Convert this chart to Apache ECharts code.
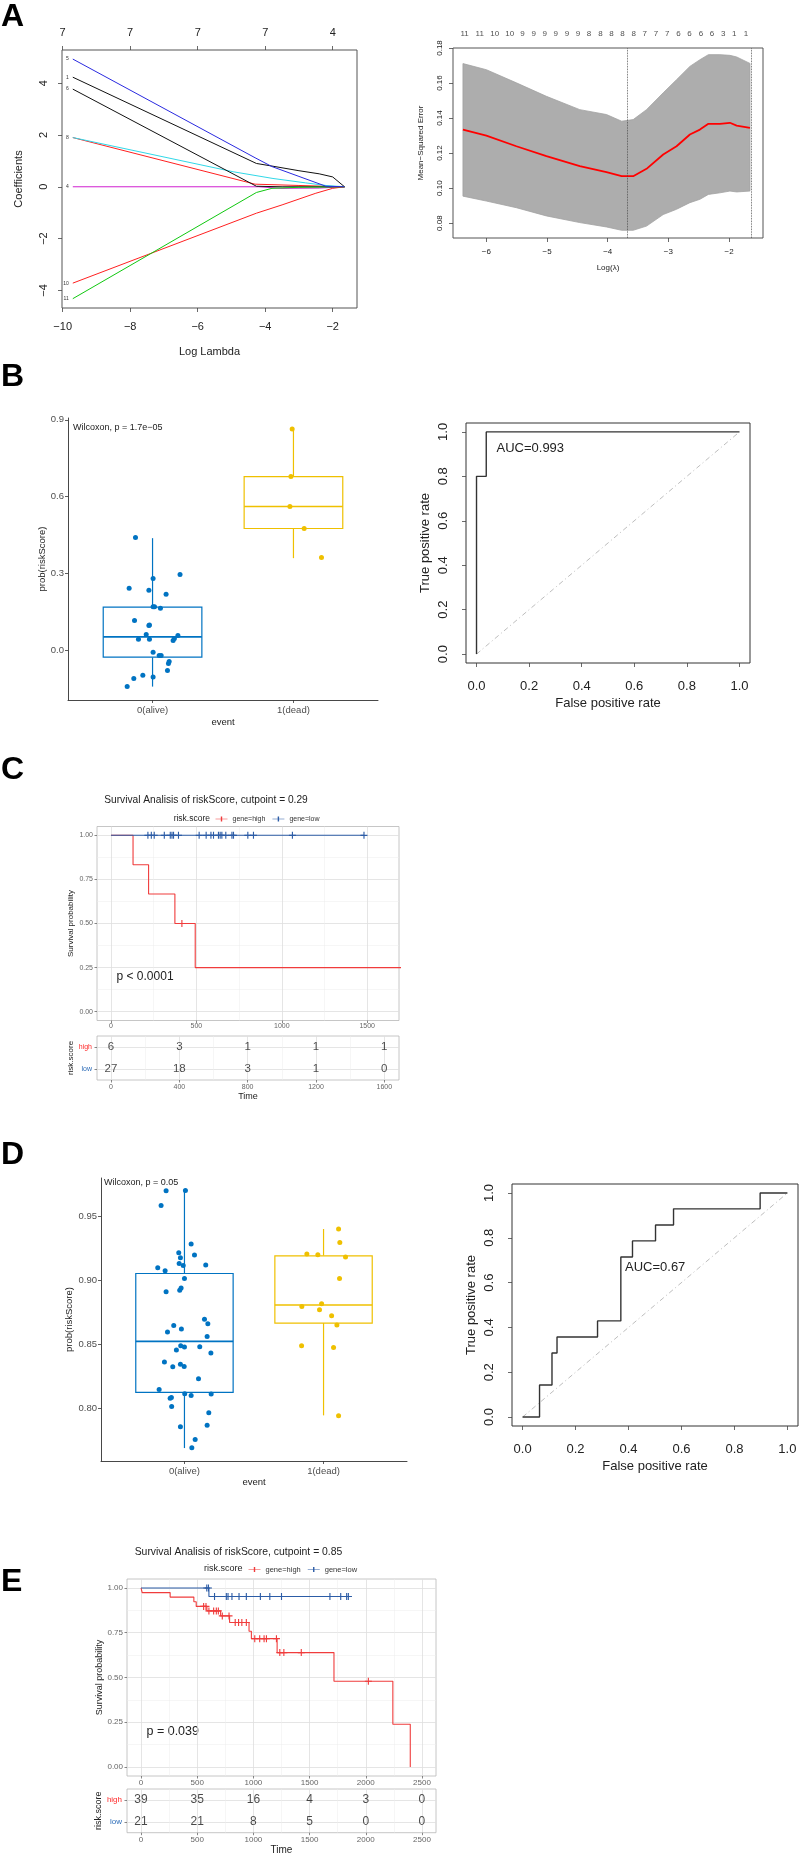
<!DOCTYPE html>
<html><head><meta charset="utf-8">
<script src="https://cdn.jsdelivr.net/npm/echarts@6/dist/echarts.min.js"></script>
<style>html,body{margin:0;padding:0;background:#fff}#c{width:800px;height:1856px}</style>
</head><body><div id="c"></div>
<script>
// ================= DATA =================
// --- Panel A (left): LASSO coefficient paths ---
const lassoXTicks = [-10, -8, -6, -4, -2];
const lassoYTicks = [-4, -2, 0, 2, 4];
const lassoTopLabels = ['7', '7', '7', '7', '4'];
const coef5  = [[-9.7,4.93],[-4.3,1.12],[-3.8,0.78],[-3.0,0.40],[-2.2,0.02],[-1.65,0]];
const coef1  = [[-9.7,4.23],[-4.26,0.90],[-3.8,0.80],[-3.0,0.62],[-2.4,0.50],[-2.0,0.38],[-1.65,0]];
const coef6  = [[-9.7,3.77],[-4.26,0.02],[-3.5,0],[-1.65,0]];
const coef8  = [[-9.7,1.9],[-4.95,0.58],[-3.77,0.32],[-2.8,0.15],[-2.2,0.05],[-1.65,0]];
const coef2  = [[-9.7,1.9],[-4.3,0.1],[-3.0,0.05],[-2.2,0.02],[-1.65,0]];
const coef4  = [[-9.7,0],[-4.2,0],[-3.5,-0.06],[-2.4,-0.05],[-1.65,0]];
const coef10 = [[-9.7,-3.72],[-4.26,-1.02],[-3.5,-0.7],[-2.5,-0.25],[-2.0,-0.06],[-1.65,0]];
const coef11 = [[-9.7,-4.32],[-4.26,-0.22],[-3.8,-0.06],[-3.0,-0.02],[-1.65,0]];

// --- Panel A (right): CV curve ---
const cvXTicks = [-6, -5, -4, -3, -2];
const cvYTicks = [0.08, 0.10, 0.12, 0.14, 0.16, 0.18];
const cvLogLambda = [-6.386,-6.0,-5.505,-5.01,-4.46,-4.02,-3.77,-3.58,-3.36,-3.085,-2.865,-2.645,-2.48,-2.34,-2.15,-1.985,-1.875,-1.655];
const cvMean  = [0.1334,0.1300,0.1239,0.1182,0.1125,0.1091,0.1068,0.1068,0.1110,0.1192,0.1239,0.1306,0.1334,0.1367,0.1367,0.1373,0.1357,0.1344];
const cvUpper = [0.1711,0.1676,0.1601,0.1524,0.1448,0.1420,0.1382,0.1391,0.1448,0.1544,0.1619,0.1695,0.1733,0.1762,0.1762,0.1758,0.1749,0.1712];
const cvLower = [0.0954,0.0926,0.0888,0.0841,0.0803,0.0778,0.0759,0.0759,0.0783,0.0849,0.0879,0.0917,0.0936,0.0964,0.0973,0.0983,0.0978,0.0983];
const cvTopX = [-6.358,-6.11,-5.863,-5.615,-5.406,-5.219,-5.038,-4.856,-4.670,-4.488,-4.307,-4.119,-3.937,-3.756,-3.569,-3.388,-3.206,-3.020,-2.832,-2.650,-2.464,-2.282,-2.096,-1.914,-1.721];
const cvTopLabels = ['11','11','10','10','9','9','9','9','9','9','8','8','8','8','8','7','7','7','6','6','6','6','3','1','1'];
const cvVLines = [-3.68, -1.63];

// --- Panel B ---
const groupLabels = ['0(alive)', '1(dead)'];
const bYTicks = [0, 0.3, 0.6, 0.9];
const bAliveBox = [-0.1436, -0.0286, 0.0509, 0.167, 0.437];   // min, Q1, median, Q3, max
const bDeadBox  = [0.3588, 0.4747, 0.5607, 0.678, 0.8636];
const bAlivePts = [[0.879,0.4395],[1.195,0.2948],[1.004,0.279],[0.834,0.2413],[0.974,0.2335],[1.096,0.2178],[1.004,0.1683],[1.014,0.1683],[1.056,0.163],[0.872,0.1148],[0.974,0.0952],[0.978,0.0978],[0.955,0.060],[1.180,0.0561],[0.900,0.0418],[0.978,0.0418],[1.155,0.0443],[1.146,0.0365],[1.004,-0.0091],[1.047,-0.0222],[1.061,-0.0222],[1.118,-0.0457],[1.113,-0.0535],[1.106,-0.081],[0.931,-0.099],[1.004,-0.1056],[0.867,-0.1122],[0.820,-0.1435]];
const bDeadPts = [[1.991,0.8636],[1.982,0.678],[1.975,0.5607],[2.076,0.4747],[2.199,0.3613]];
const rocTicks = [0, 0.2, 0.4, 0.6, 0.8, 1.0];
const rocB_fpr = [0, 0, 0.037, 1];
const rocB_tpr = [0, 0.8, 1, 1];

// --- Panel C ---
const cSurvXTicks = [0, 500, 1000, 1500];
const cSurvXMinor = [250, 750, 1250];
const survYTicks = [0, 0.25, 0.5, 0.75, 1];
const survYMinor = [0.125, 0.375, 0.625, 0.875];
const cHighTimes = [0, 129, 220, 374, 493, 1720];
const cHighSurv  = [1, 0.833, 0.667, 0.5, 0.25, 0.25];
const cHighCensor = [415];
const cLowTimes = [0, 1481];
const cLowSurv  = [1, 1];
const cLowCensor = [216,236,253,312,347,357,366,395,516,557,585,600,629,639,649,672,708,717,801,834,1062,1481];
const cRiskTimes = [0, 400, 800, 1200, 1600];
const cRiskMinor = [200, 600, 1000, 1400];
const cRiskHigh = [6, 3, 1, 1, 1];
const cRiskLow  = [27, 18, 3, 1, 0];

// --- Panel D ---
const dYTicks = [0.80, 0.85, 0.90, 0.95];
const dAliveBox = [0.7693, 0.8127, 0.8525, 0.9055, 0.9703];
const dDeadBox  = [0.7948, 0.8668, 0.8809, 0.9193, 0.9402];
const dAlivePts = [[0.868,0.970],[1.007,0.9703],[0.832,0.9586],[1.048,0.9285],[0.959,0.9217],[1.072,0.9199],[0.971,0.9178],[0.962,0.9133],[0.991,0.9118],[1.153,0.9121],[0.808,0.910],[0.861,0.9076],[1.0,0.9016],[0.976,0.8941],[0.966,0.8925],[0.868,0.8913],[1.144,0.8697],[1.168,0.8663],[0.923,0.865],[0.978,0.8622],[0.878,0.8598],[1.163,0.8564],[0.973,0.8491],[1.0,0.8481],[1.11,0.8484],[0.942,0.8458],[1.19,0.8434],[0.856,0.8364],[0.971,0.8346],[0.998,0.833],[0.916,0.8328],[1.101,0.8234],[0.818,0.815],[1.002,0.8117],[1.048,0.8104],[1.192,0.8115],[0.906,0.8088],[0.897,0.8081],[0.908,0.8018],[1.175,0.7969],[0.971,0.7859],[1.163,0.787],[1.077,0.776],[1.053,0.7696]];
const dDeadPts = [[2.108,0.9402],[2.117,0.9297],[1.88,0.9207],[1.959,0.9201],[2.158,0.9183],[2.115,0.9016],[1.844,0.8798],[1.986,0.8819],[1.971,0.8772],[2.058,0.8725],[2.096,0.8653],[1.842,0.8491],[2.072,0.8478],[2.108,0.7945]];
const rocD_fpr = [0, 0.064, 0.111, 0.13, 0.283, 0.371, 0.415, 0.502, 0.570, 0.897, 1];
const rocD_tpr = [0, 0.143, 0.286, 0.357, 0.429, 0.714, 0.786, 0.857, 0.929, 1, 1];

// --- Panel E ---
const eXTicks = [0, 500, 1000, 1500, 2000, 2500];
const eXMinor = [250, 750, 1250, 1750, 2250];
const eHighTimes = [0, 10, 259, 470, 491, 586, 708, 788, 961, 982, 1211, 1717, 2241, 2396];
const eHighSurv  = [1, 0.974, 0.949, 0.923, 0.897, 0.872, 0.844, 0.807, 0.758, 0.717, 0.639, 0.479, 0.239, 0];
const eHighCensor = [557, 578, 604, 646, 670, 688, 723, 783, 838, 868, 897, 937, 1012, 1056, 1095, 1116, 1205, 1235, 1271, 1426, 2023];
const eLowTimes = [0, 604, 1875];
const eLowSurv  = [1, 0.952, 0.952];
const eLowCensor = [585, 600, 654, 759, 774, 809, 872, 937, 1062, 1146, 1250, 1681, 1777, 1830, 1845];
const eRiskHigh = [39, 35, 16, 4, 3, 0];
const eRiskLow  = [21, 21, 8, 5, 0, 0];

// ================= STYLE =================
const FONT = '"Liberation Sans", Arial, Helvetica, sans-serif';
const BLUE = '#0073C2', YELLOW = '#EFC000';
const KM_RED = '#f03c3c', KM_BLUE = '#2c5ca6';
const PLUS = 'path://M0,4.2H10V5.8H0Z M4.2,0H5.8V10H4.2Z';
const PLUS_LINE = 'path://M0,4.4H24V5.6H0Z M10.6,0H13.4V10H10.6Z';
const minus = v => String(v).replace('-', '\u2212');

function survAt(times, surv, t) {
  let s = surv[0];
  for (let i = 0; i < times.length; i++) if (times[i] <= t) s = surv[i];
  return s;
}

const grids = [
  {left: 62, top: 50, width: 295, height: 258},      // 0 A-left
  {left: 453, top: 48, width: 310, height: 190},     // 1 A-right
  {left: 68, top: 418, width: 310, height: 282},     // 2 B box
  {left: 466, top: 423, width: 284, height: 240},    // 3 B roc
  {left: 97, top: 826.5, width: 302, height: 194},   // 4 C surv
  {left: 97, top: 1036, width: 302, height: 44},     // 5 C table
  {left: 101, top: 1178, width: 306, height: 283},   // 6 D box
  {left: 512, top: 1184, width: 286, height: 242},   // 7 D roc
  {left: 127, top: 1579, width: 309, height: 197},   // 8 E surv
  {left: 127, top: 1789, width: 309, height: 45}     // 9 E table
].map((g, i) => {
  const rBox = [0, 1, 3, 7].includes(i), surv = [4, 5, 8, 9].includes(i);
  return Object.assign(g, {
    show: rBox || surv,
    borderColor: rBox ? (i < 2 ? '#555' : '#333') : '#b8b8b8',
    borderWidth: rBox ? 1 : 0.8,
    backgroundColor: 'transparent'
  });
});

// R base style axes
function rX(grid, min, max, ticks, fmt, fs, name, nameGap, margin, extra) {
  return Object.assign({
    type: 'value', gridIndex: grid, min, max, position: 'bottom',
    axisLine: {show: false, onZero: false},
    axisTick: {show: true, inside: false, length: 4, customValues: ticks, lineStyle: {color: '#444', width: 0.8}},
    axisLabel: {show: true, customValues: ticks, formatter: fmt, fontSize: fs, color: '#222', margin, hideOverlap: false, fontFamily: FONT},
    splitLine: {show: false},
    name, nameLocation: 'middle', nameGap, nameTextStyle: {fontSize: fs, color: '#222', fontFamily: FONT}
  }, extra || {});
}
function rY(grid, min, max, ticks, fmt, fs, name, nameGap, margin) {
  return {
    type: 'value', gridIndex: grid, min, max, position: 'left',
    axisLine: {show: false, onZero: false},
    axisTick: {show: true, inside: false, length: 4, customValues: ticks, lineStyle: {color: '#444', width: 0.8}},
    axisLabel: {show: true, customValues: ticks, formatter: fmt, fontSize: fs, color: '#222', margin, rotate: 90, hideOverlap: false, fontFamily: FONT},
    splitLine: {show: false},
    name, nameLocation: 'middle', nameGap, nameTextStyle: {fontSize: fs, color: '#222', fontFamily: FONT}
  };
}
// ggplot classic axes
function gX(grid, ticks, fmt, name, nameGap) {
  return {
    type: 'value', gridIndex: grid, min: 0.4, max: 2.6,
    axisLine: {show: true, onZero: false, lineStyle: {color: '#333', width: 0.9}},
    axisTick: {show: true, length: 3, customValues: ticks, lineStyle: {color: '#333', width: 0.8}},
    axisLabel: {customValues: ticks, formatter: fmt, fontSize: 9.5, color: '#4d4d4d', margin: 5, hideOverlap: false, fontFamily: FONT},
    splitLine: {show: false},
    name, nameLocation: 'middle', nameGap, nameTextStyle: {fontSize: 9.5, color: '#222', fontFamily: FONT}
  };
}
function gY(grid, min, max, ticks, fmt, name, nameGap) {
  return {
    type: 'value', gridIndex: grid, min, max,
    axisLine: {show: true, onZero: false, lineStyle: {color: '#333', width: 0.9}},
    axisTick: {show: true, length: 3, customValues: ticks, lineStyle: {color: '#333', width: 0.8}},
    axisLabel: {customValues: ticks, formatter: fmt, fontSize: 9.5, color: '#4d4d4d', margin: 4, hideOverlap: false, fontFamily: FONT},
    splitLine: {show: false},
    name, nameLocation: 'middle', nameGap, nameTextStyle: {fontSize: 9.5, color: '#222', fontFamily: FONT}
  };
}
// survminer style axes
function sX(grid, min, max, ticks, fs, margin, name, nameGap) {
  return {
    type: 'value', gridIndex: grid, min, max,
    axisLine: {show: false, onZero: false},
    axisTick: {show: true, length: 2.5, customValues: ticks, lineStyle: {color: '#555', width: 0.7}},
    axisLabel: {customValues: ticks, formatter: v => String(v), fontSize: fs, color: '#666', margin, hideOverlap: false, fontFamily: FONT},
    splitLine: {show: true, lineStyle: {color: '#dedede', width: 0.8}},
    name: name || '', nameLocation: 'middle', nameGap: nameGap || 0,
    nameTextStyle: {fontSize: fs + 2, color: '#222', fontFamily: FONT}
  };
}
function sMinorX(grid, min, max, ticks) {
  return {
    type: 'value', gridIndex: grid, min, max, position: 'top',
    axisLine: {show: false, onZero: false}, axisLabel: {show: false},
    axisTick: {show: false, customValues: ticks},
    splitLine: {show: true, lineStyle: {color: '#ececec', width: 0.5}}
  };
}
function sY(grid, fs, name, nameGap) {
  return {
    type: 'value', gridIndex: grid, min: -0.05, max: 1.05,
    axisLine: {show: false, onZero: false},
    axisTick: {show: true, length: 2.5, customValues: survYTicks, lineStyle: {color: '#555', width: 0.7}},
    axisLabel: {customValues: survYTicks, formatter: v => Number(v).toFixed(2), fontSize: fs, color: '#666', margin: 4, hideOverlap: false, fontFamily: FONT},
    splitLine: {show: true, lineStyle: {color: '#dedede', width: 0.8}},
    name, nameLocation: 'middle', nameGap, nameTextStyle: {fontSize: fs + 1, color: '#222', fontFamily: FONT}
  };
}
function sMinorY(grid) {
  return {
    type: 'value', gridIndex: grid, min: -0.05, max: 1.05, position: 'right',
    axisLine: {show: false, onZero: false}, axisLabel: {show: false},
    axisTick: {show: false, customValues: survYMinor},
    splitLine: {show: true, lineStyle: {color: '#ececec', width: 0.5}}
  };
}
function tableY(grid, fs, nameGap) {
  return {
    type: 'value', gridIndex: grid, min: 0.5, max: 2.5,
    axisLine: {show: false, onZero: false},
    axisTick: {show: true, length: 2.5, customValues: [1, 2], lineStyle: {color: '#555', width: 0.7}},
    axisLabel: {customValues: [1, 2], formatter: v => (Number(v) === 2 ? 'high' : 'low'),
      color: v => (Number(v) === 2 ? '#ff2a2a' : '#2c6cb8'), fontSize: fs, margin: 5, hideOverlap: false, fontFamily: FONT},
    splitLine: {show: true, lineStyle: {color: '#dedede', width: 0.8}},
    name: 'risk.score', nameLocation: 'middle', nameGap, nameTextStyle: {fontSize: fs + 1, color: '#222', fontFamily: FONT}
  };
}

const xAxis = [
  rX(0, -10.02, -1.28, lassoXTicks, minus, 11, 'Log Lambda', 38, 13),                        // 0
  rX(0, -10.02, -1.28, lassoXTicks, v => lassoTopLabels[lassoXTicks.indexOf(Number(v))], 11, '', 0, 12, {position: 'top'}), // 1
  rX(1, -6.55, -1.44, cvXTicks, minus, 8, 'Log(\u03bb)', 26, 9.5),                          // 2
  gX(2, [1, 2], v => groupLabels[Number(v) - 1], 'event', 17),                              // 3
  rX(3, -0.04, 1.04, rocTicks, v => Number(v).toFixed(1), 13, 'False positive rate', 34, 16.5), // 4
  sX(4, -82, 1686, cSurvXTicks, 7, 2.5),                                                    // 5
  sMinorX(4, -82, 1686, cSurvXMinor),                                                       // 6
  sX(5, -82, 1686, cRiskTimes, 7, 3.5, 'Time', 12.5),                                       // 7
  sMinorX(5, -82, 1686, cRiskMinor),                                                        // 8
  gX(6, [1, 2], v => groupLabels[Number(v) - 1], 'event', 15),                              // 9
  rX(7, -0.04, 1.04, rocTicks, v => Number(v).toFixed(1), 13, 'False positive rate', 34, 16.5), // 10
  sX(8, -125, 2625, eXTicks, 8, 3),                                                         // 11
  sMinorX(8, -125, 2625, eXMinor),                                                          // 12
  sX(9, -125, 2625, eXTicks, 8, 3.4, 'Time', 12),                                           // 13
  sMinorX(9, -125, 2625, eXMinor)                                                           // 14
];
const yAxis = [
  rY(0, -4.68, 5.28, lassoYTicks, minus, 11, 'Coefficients', 38, 13),                      // 0
  rY(1, 0.0715, 0.180, cvYTicks, v => Number(v).toFixed(2), 8, 'Mean\u2212Squared Error', 28, 9), // 1
  gY(2, -0.196, 0.907, bYTicks, v => Number(v).toFixed(1), 'prob(riskScore)', 21),         // 2
  rY(3, -0.04, 1.04, rocTicks, v => Number(v).toFixed(1), 13, 'True positive rate', 34, 16), // 3
  sY(4, 7, 'Survival probability', 22),                                                    // 4
  sMinorY(4),                                                                              // 5
  tableY(5, 7, 22),                                                                        // 6
  gY(6, 0.7592, 0.98, dYTicks, v => Number(v).toFixed(2), 'prob(riskScore)', 25),          // 7
  rY(7, -0.04, 1.04, rocTicks, v => Number(v).toFixed(1), 13, 'True positive rate', 34, 16), // 8
  sY(8, 8, 'Survival probability', 23),                                                    // 9
  sMinorY(8),                                                                              // 10
  tableY(9, 8, 21)                                                                         // 11
];

// ================= SERIES =================
const series = [];
// A-left coefficient paths
const coefPaths = [
  {data: coef2, color: '#ff2020', id: ''},
  {data: coef4, color: '#d020d0', id: '4'},
  {data: coef8, color: '#30d8e8', id: '8'},
  {data: coef6, color: '#111111', id: '6'},
  {data: coef1, color: '#111111', id: '1'},
  {data: coef10, color: '#ff2020', id: '10'},
  {data: coef11, color: '#10c810', id: '11'},
  {data: coef5, color: '#2a2ae0', id: '5'}
];
coefPaths.forEach(c => series.push({
  type: 'line', xAxisIndex: 0, yAxisIndex: 0, symbol: 'circle', symbolSize: 0, showSymbol: true,
  lineStyle: {color: c.color, width: 1}, itemStyle: {color: c.color},
  data: c.data.map((p, i) => i === 0 && c.id ? {value: p, label: {show: true, formatter: c.id, position: 'left', distance: 4, fontSize: 5, color: '#333'}} : p),
  silent: true
}));
// A-right CV band + mean + labels
series.push({
  type: 'custom', xAxisIndex: 2, yAxisIndex: 1, clip: true, silent: true,
  data: [[cvLogLambda[0], cvMean[0]]],
  renderItem: (params, api) => {
    const pts = [];
    for (let i = 0; i < cvLogLambda.length; i++) pts.push(api.coord([cvLogLambda[i], cvUpper[i]]));
    for (let i = cvLogLambda.length - 1; i >= 0; i--) pts.push(api.coord([cvLogLambda[i], cvLower[i]]));
    return {type: 'polygon', shape: {points: pts}, style: {fill: '#adadad', stroke: '#a2a2a2', lineWidth: 0.8}};
  }
});
series.push({
  type: 'line', xAxisIndex: 2, yAxisIndex: 1, showSymbol: false, silent: true,
  lineStyle: {color: '#ff0000', width: 1.8},
  data: cvLogLambda.map((x, i) => [x, cvMean[i]]),
  markLine: {symbol: 'none', silent: true, label: {show: false},
    lineStyle: {type: 'dotted', color: '#444', width: 0.8},
    data: cvVLines.map(v => ({xAxis: v}))}
});
series.push({
  type: 'scatter', xAxisIndex: 2, yAxisIndex: 1, symbolSize: 0, silent: true,
  data: cvTopX.map((x, i) => [x, 0.18, cvTopLabels[i]]),
  label: {show: true, position: 'top', distance: 10, formatter: p => p.value[2], fontSize: 8, color: '#222', fontFamily: FONT}
});

// Box plot renderer
function boxRender(params, api) {
  const x = api.value(0), mn = api.value(1), q1 = api.value(2), md = api.value(3), q3 = api.value(4), mx = api.value(5);
  const h = 0.35;
  const tl = api.coord([x - h, q3]), br = api.coord([x + h, q1]);
  const pMax = api.coord([x, mx]), pQ3 = api.coord([x, q3]), pQ1 = api.coord([x, q1]), pMin = api.coord([x, mn]);
  const mL = api.coord([x - h, md]), mR = api.coord([x + h, md]);
  const color = api.visual('color');
  return {type: 'group', children: [
    {type: 'line', shape: {x1: pMax[0], y1: pMax[1], x2: pQ3[0], y2: pQ3[1]}, style: {stroke: color, lineWidth: 1.2}},
    {type: 'line', shape: {x1: pQ1[0], y1: pQ1[1], x2: pMin[0], y2: pMin[1]}, style: {stroke: color, lineWidth: 1.2}},
    {type: 'rect', shape: {x: tl[0], y: tl[1], width: br[0] - tl[0], height: br[1] - tl[1]}, style: {fill: '#fff', stroke: color, lineWidth: 1.2}},
    {type: 'line', shape: {x1: mL[0], y1: mL[1], x2: mR[0], y2: mR[1]}, style: {stroke: color, lineWidth: 1.6}}
  ]};
}
function addBoxPanel(xi, yi, aliveBox, deadBox, alivePts, deadPts) {
  series.push({
    type: 'custom', xAxisIndex: xi, yAxisIndex: yi, renderItem: boxRender, silent: true,
    encode: {x: 0, y: [1, 2, 3, 4, 5]},
    data: [{value: [1, ...aliveBox], itemStyle: {color: BLUE}}, {value: [2, ...deadBox], itemStyle: {color: YELLOW}}]
  });
  series.push({type: 'scatter', xAxisIndex: xi, yAxisIndex: yi, symbolSize: 5, itemStyle: {color: BLUE, opacity: 1}, data: alivePts, silent: true});
  series.push({type: 'scatter', xAxisIndex: xi, yAxisIndex: yi, symbolSize: 5, itemStyle: {color: YELLOW, opacity: 1}, data: deadPts, silent: true});
}
addBoxPanel(3, 2, bAliveBox, bDeadBox, bAlivePts, bDeadPts);
addBoxPanel(9, 7, dAliveBox, dDeadBox, dAlivePts, dDeadPts);

// ROC
function addRoc(xi, yi, fpr, tpr) {
  series.push({type: 'line', xAxisIndex: xi, yAxisIndex: yi, showSymbol: false, silent: true,
    lineStyle: {color: '#b5b5b5', width: 0.9, type: [5, 3, 1, 3]}, data: [[0, 0], [1, 1]]});
  series.push({type: 'line', xAxisIndex: xi, yAxisIndex: yi, showSymbol: false, silent: true, step: 'end',
    lineStyle: {color: '#333', width: 1.4}, data: fpr.map((f, i) => [f, tpr[i]])});
}
addRoc(4, 3, rocB_fpr, rocB_tpr);
addRoc(10, 8, rocD_fpr, rocD_tpr);

// KM curves
function addKM(xi, yi, highT, highS, highC, lowT, lowS, lowC) {
  const mk = (name, color, T, S) => ({
    name, type: 'line', xAxisIndex: xi, yAxisIndex: yi, step: 'end', showSymbol: false, silent: true, clip: true,
    color, lineStyle: {color, width: 1.1}, itemStyle: {color},
    data: T.map((t, i) => [t, S[i]])
  });
  const cens = (name, color, T, S, C) => ({
    name, type: 'scatter', xAxisIndex: xi, yAxisIndex: yi, symbol: PLUS, symbolSize: 7, silent: true,
    color, itemStyle: {color, opacity: 1},
    data: C.map(t => [t, survAt(T, S, t)])
  });
  series.push(mk('gene=high', KM_RED, highT, highS));
  series.push(mk('gene=low', KM_BLUE, lowT, lowS));
  series.push(cens('gene=high', KM_RED, highT, highS, highC));
  series.push(cens('gene=low', KM_BLUE, lowT, lowS, lowC));
}
addKM(5, 4, cHighTimes, cHighSurv, cHighCensor, cLowTimes, cLowSurv, cLowCensor);
addKM(11, 9, eHighTimes, eHighSurv, eHighCensor, eLowTimes, eLowSurv, eLowCensor);

// Risk tables
function addTable(xi, yi, times, high, low, fs) {
  [[2, high], [1, low]].forEach(([row, vals]) => series.push({
    type: 'scatter', xAxisIndex: xi, yAxisIndex: yi, symbolSize: 0, silent: true,
    data: times.map((t, i) => [t, row, vals[i]]),
    label: {show: true, position: 'inside', formatter: p => String(p.value[2]), fontSize: fs, color: '#1a1a1a', fontFamily: FONT}
  }));
}
addTable(7, 6, cRiskTimes, cRiskHigh, cRiskLow, 11.5);
addTable(13, 11, eXTicks, eRiskHigh, eRiskLow, 12);

// ================= TEXT =================
const T = (text, x, y, size, opts) => Object.assign({
  type: 'text', x, y, silent: true,
  style: Object.assign({text, fontSize: size, fontFamily: FONT, fill: '#222', align: 'left', verticalAlign: 'middle'}, (opts || {}))
});
const letter = (t, y) => T(t, 1, y, 32, {fontWeight: 'bold', fill: '#000'});
const graphics = [
  letter('A', 17), letter('B', 377), letter('C', 770), letter('D', 1155), letter('E', 1582),
  T('Wilcoxon, p = 1.7e\u221205', 73, 428, 9),
  T('AUC=0.993', 496.5, 448.5, 13),
  T('Survival Analisis of riskScore, cutpoint = 0.29', 206, 800, 10.2, {align: 'center'}),
  T('risk.score', 210, 819, 8.5, {align: 'right'}),
  T('p < 0.0001', 116.5, 977, 12),
  T('Wilcoxon, p = 0.05', 104, 1183, 9),
  T('AUC=0.67', 625, 1267, 13),
  T('Survival Analisis of riskScore, cutpoint = 0.85', 238.5, 1552.5, 10.4, {align: 'center'}),
  T('risk.score', 242.5, 1569, 9, {align: 'right'}),
  T('p = 0.039', 146.5, 1732, 12.5)
];

const legendBase = (left, top, fs) => ({
  data: [{name: 'gene=high', icon: PLUS_LINE}, {name: 'gene=low', icon: PLUS_LINE}],
  left, top, itemWidth: 12, itemHeight: 7, itemGap: 7, selectedMode: false, padding: 0,
  textStyle: {fontSize: fs, color: '#333', fontFamily: FONT}
});

const option = {
  animation: false,
  backgroundColor: '#ffffff',
  textStyle: {fontFamily: FONT},
  grid: grids,
  xAxis, yAxis, series,
  legend: [legendBase(215.5, 815.5, 7), legendBase(248.5, 1565.5, 7.5)],
  graphic: {elements: graphics}
};

const chart = echarts.init(document.getElementById('c'), null, {renderer: 'canvas', width: 800, height: 1856});
chart.setOption(option);
</script>
</body></html>
